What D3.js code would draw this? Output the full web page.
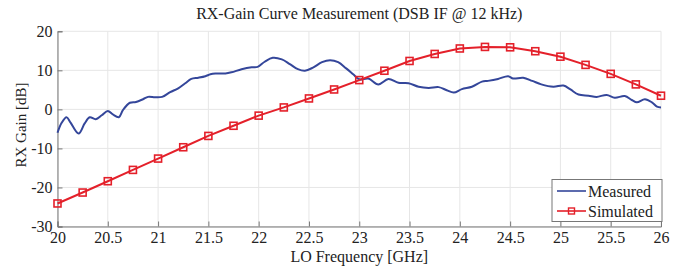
<!DOCTYPE html>
<html><head><meta charset="utf-8">
<script src="https://cdn.jsdelivr.net/npm/d3@7"></script>
<style>
html,body{margin:0;padding:0;background:#fff;}
svg{display:block;font-family:"Liberation Serif","Times New Roman",serif;}
svg text{font-family:"Liberation Serif","Times New Roman",serif !important;}
</style></head>
<body><svg id="c" width="688" height="266"></svg>
<script>
const titleText = "RX-Gain Curve Measurement (DSB IF @ 12 kHz)";
const xLabel = "LO Frequency [GHz]";
const yLabel = "RX Gain [dB]";
const xTicks = [20,20.5,21,21.5,22,22.5,23,23.5,24,24.5,25,25.5,26];
const yTicks = [-30,-20,-10,0,10,20];
const seriesNames = ["Measured","Simulated"];

const measFreq = [20.00,20.04,20.09,20.13,20.21,20.27,20.32,20.38,20.44,20.50,20.55,20.61,20.65,20.72,20.78,20.85,20.90,20.97,21.04,21.12,21.20,21.27,21.33,21.40,21.47,21.52,21.57,21.67,21.73,21.83,21.93,21.99,22.06,22.14,22.23,22.31,22.39,22.46,22.54,22.63,22.71,22.79,22.87,22.94,23.00,23.09,23.19,23.29,23.39,23.49,23.59,23.69,23.79,23.87,23.94,24.02,24.12,24.22,24.28,24.38,24.48,24.53,24.63,24.72,24.81,24.93,25.03,25.10,25.18,25.28,25.36,25.46,25.54,25.64,25.71,25.76,25.84,25.91,25.96,26.00];
const measGain = [-6.0,-3.5,-2.0,-3.4,-6.2,-3.6,-2.0,-2.5,-1.5,-0.4,-1.3,-2.0,-0.2,1.7,1.9,2.6,3.2,3.1,3.2,4.4,5.4,6.7,7.8,8.1,8.5,9.0,9.2,9.2,9.5,10.3,10.8,10.9,12.2,13.2,12.8,11.6,10.3,9.9,10.7,12.1,12.6,12.1,10.5,9.0,7.7,7.9,6.4,7.8,6.8,6.7,5.8,5.5,5.7,4.9,4.3,5.2,5.8,7.1,7.3,7.8,8.5,7.9,8.1,7.3,6.4,5.8,6.1,5.1,3.8,3.5,3.2,3.7,3.0,3.4,2.4,1.8,2.6,1.8,0.7,0.5];

const simFreq = [20,20.25,20.5,20.75,21,21.25,21.5,21.75,22,22.25,22.5,22.75,23,23.25,23.5,23.75,24,24.25,24.5,24.75,25,25.25,25.5,25.75,26];
const simGain = [-24.1,-21.3,-18.4,-15.5,-12.6,-9.7,-6.8,-4.2,-1.6,0.5,2.8,5.1,7.5,9.9,12.4,14.2,15.6,16.0,15.9,14.9,13.5,11.4,9.1,6.4,3.5];

const svg = d3.select("#c");
const L = 57.5, R = 661, T = 31.3, B = 226.5;
const x = d3.scaleLinear().domain([20,26]).range([L,R]);
const y = d3.scaleLinear().domain([-30,20]).range([B,T]);

// grid
const grid = svg.append("g").attr("stroke","#e6e6e6").attr("stroke-width",1);
xTicks.forEach(t=>grid.append("line").attr("x1",x(t)).attr("x2",x(t)).attr("y1",T).attr("y2",B));
yTicks.forEach(t=>grid.append("line").attr("x1",L).attr("x2",R).attr("y1",y(t)).attr("y2",y(t)));

// axes (inward ticks)
const fmt = d => String(d);
const xAxis = d3.axisBottom(x).tickValues(xTicks).tickSize(-5).tickPadding(5).tickFormat(fmt);
const yAxis = d3.axisLeft(y).tickValues(yTicks).tickSize(-5).tickPadding(5).tickFormat(fmt);
const gx = svg.append("g").attr("transform",`translate(0,${B})`).call(xAxis);
const gy = svg.append("g").attr("transform",`translate(${L},0)`).call(yAxis);
[gx,gy].forEach(g=>{
  g.attr("font-family","Liberation Serif").attr("font-size",16);
  g.select(".domain").attr("stroke","#777").attr("stroke-width",1);
  g.selectAll(".tick line").attr("stroke","#777");
  g.selectAll(".tick text").attr("fill","#222");
});

// lines
const measData = measFreq.map((f,i)=>[f,measGain[i]]);
const simData = simFreq.map((f,i)=>[f,simGain[i]]);
svg.append("path").datum(measData).attr("fill","none").attr("stroke","#34469a").attr("stroke-width",2)
  .attr("d",d3.line().x(d=>x(d[0])).y(d=>y(d[1])).curve(d3.curveCatmullRom.alpha(0.5)));
svg.append("path").datum(simData).attr("fill","none").attr("stroke","#e4202a").attr("stroke-width",2)
  .attr("d",d3.line().x(d=>x(d[0])).y(d=>y(d[1])));
svg.append("g").selectAll("rect").data(simData).join("rect")
  .attr("x",d=>x(d[0])-3.5).attr("y",d=>y(d[1])-3.5).attr("width",7).attr("height",7)
  .attr("fill","none").attr("stroke","#e4202a").attr("stroke-width",1.6);

// title & labels
svg.append("text").attr("x",(L+R)/2).attr("y",19).attr("text-anchor","middle")
  .attr("font-size",16).attr("fill","#222").text(titleText);
svg.append("text").attr("x",(L+R)/2).attr("y",261.5).attr("text-anchor","middle")
  .attr("font-size",16).attr("fill","#222").text(xLabel);
svg.append("text").attr("transform","translate(26,125) rotate(-90)").attr("text-anchor","middle")
  .attr("font-size",15).attr("fill","#222").text(yLabel);

// legend
const lg = svg.append("g");
lg.append("rect").attr("x",552).attr("y",179.5).attr("width",110).attr("height",42)
  .attr("fill","#fff").attr("stroke","#777").attr("stroke-width",1);
const colors = ["#34469a","#e4202a"];
seriesNames.forEach((n,i)=>{
  const yy = 191 + i*20;
  lg.append("line").attr("x1",557).attr("x2",586).attr("y1",yy).attr("y2",yy).attr("stroke",colors[i]).attr("stroke-width",1.6);
  if(i===1) lg.append("rect").attr("x",571.5-3).attr("y",yy-3).attr("width",6).attr("height",6).attr("fill","none").attr("stroke",colors[i]).attr("stroke-width",1.4);
  lg.append("text").attr("x",588).attr("y",yy+5.5).attr("font-size",16).attr("fill","#222").text(n);
});
</script></body></html>
